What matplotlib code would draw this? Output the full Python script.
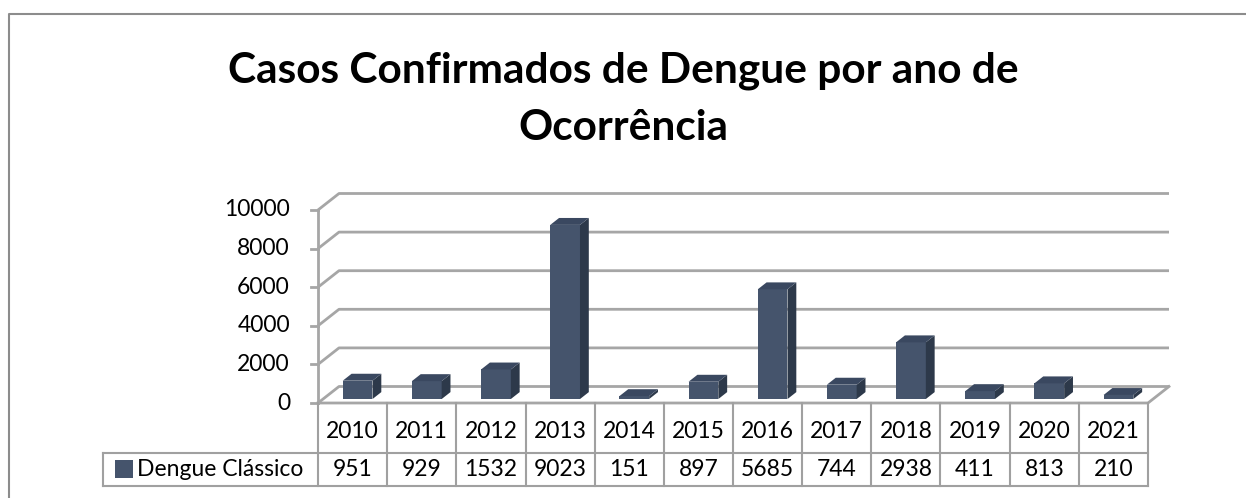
import matplotlib
matplotlib.use("Agg")
import matplotlib.pyplot as plt
from matplotlib.patches import Polygon, Rectangle
from matplotlib.transforms import blended_transform_factory

# data
anos = ['2010', '2011', '2012', '2013', '2014', '2015',
        '2016', '2017', '2018', '2019', '2020', '2021']
casos = [951, 929, 1532, 9023, 151, 897, 5685, 744, 2938, 411, 813, 210]
serie = 'Dengue Clássico'
titulo = 'Casos Confirmados de Dengue por ano de\nOcorrência'
yticks = [0, 2000, 4000, 6000, 8000, 10000]

W, H = 1246, 498
plt.rcParams['font.family'] = ['Lato', 'DejaVu Sans']

fig = plt.figure(figsize=(W / 100, H / 100), dpi=100)

def fx(p):
    return p / W

def fy(p):
    return 1 - p / H

# front plot area (pixels)
x_left, x_right = 318, 1148
y_zero, y_top = 403, 210
ax = fig.add_axes([fx(x_left), fy(y_zero), fx(x_right - x_left), (y_zero - y_top) / H])
n = len(anos)
ax.set_xlim(0, n)
ax.set_ylim(0, 10000)
ax.axis('off')

px_x = (x_right - x_left) / n          # pixels per category
px_y = (y_zero - y_top) / 10000.0      # pixels per unit
DX = 21 / px_x
DY = 16.5 / px_y

grid_c = '#a6a6a6'
line_c = '#a0a0a0'
fs = 16.5

# back wall gridlines + side wall
for v in yticks:
    ax.plot([0, DX, n + DX], [v, v + DY, v + DY], color=grid_c, lw=2,
            clip_on=False, zorder=1, solid_capstyle='butt')
# floor
ax.plot([0, n, n + DX], [0, 0, DY], color=grid_c, lw=2, clip_on=False, zorder=1)
# front vertical axis + ticks
ax.plot([0, 0], [0, 10000], color=grid_c, lw=2, clip_on=False, zorder=1)
tk = 7 / px_x
for v in yticks:
    ax.plot([-tk, 0], [v, v], color=grid_c, lw=2, clip_on=False, zorder=1)
    ax.text(-28 / px_x, v, str(v), ha='right', va='center', fontsize=fs,
            color='black')

# 3D bars
bw = 0.43
d0, dd = 0.24, 0.42
front_c = '#45546c'
side_c = '#2d394a'
top_c = '#3a4860'
for i, v in enumerate(casos):
    x0 = i + 0.5 - bw / 2 + d0 * DX
    y0 = d0 * DY
    ex, ey = dd * DX, dd * DY
    ax.add_patch(Rectangle((x0, y0), bw, v, facecolor=front_c,
                           edgecolor='none', clip_on=False, zorder=3))
    ax.add_patch(Polygon([(x0 + bw, y0), (x0 + bw + ex, y0 + ey),
                          (x0 + bw + ex, y0 + v + ey), (x0 + bw, y0 + v)],
                         closed=True, facecolor=side_c, edgecolor='none',
                         clip_on=False, zorder=3))
    ax.add_patch(Polygon([(x0, y0 + v), (x0 + bw, y0 + v),
                          (x0 + bw + ex, y0 + v + ey), (x0 + ex, y0 + v + ey)],
                         closed=True, facecolor=top_c, edgecolor='none',
                         clip_on=False, zorder=3))

# data table
tr = blended_transform_factory(ax.transData, fig.transFigure)
row_mid, row_bot = 453, 486
leg_left = (103 - x_left) / px_x
for k in range(n + 1):
    ax.plot([k, k], [fy(y_zero), fy(row_bot)], transform=tr, color=line_c,
            lw=1.5, clip_on=False)
for yy in (row_mid, row_bot):
    ax.plot([leg_left, n], [fy(yy), fy(yy)], transform=tr, color=line_c,
            lw=1.5, clip_on=False)
ax.plot([leg_left, leg_left], [fy(row_mid), fy(row_bot)], transform=tr,
        color=line_c, lw=1.5, clip_on=False)

for i, (a, v) in enumerate(zip(anos, casos)):
    ax.text(i + 0.5, fy(431), a, transform=tr, ha='center', va='center',
            fontsize=fs)
    ax.text(i + 0.5, fy(469), str(v), transform=tr, ha='center',
            va='center', fontsize=fs)

# legend key
fig.patches.append(Rectangle((fx(115), fy(478)), fx(18), 18 / H,
                             transform=fig.transFigure, facecolor=front_c,
                             edgecolor='none'))
fig.text(fx(137), fy(469), serie, ha='left', va='center', fontsize=fs)

# title
fig.text(fx(623), fy(99), titulo, ha='center', va='center', fontsize=30.5,
         fontweight='bold', linespacing=1.62)

# chart border
fig.add_artist(plt.Line2D([fx(8.5), fx(8.5), 1], [0, fy(14.5), fy(14.5)],
                          transform=fig.transFigure, color='#8c8c8c', lw=1.5))

fig.savefig('out.png', dpi=100, facecolor='white')
